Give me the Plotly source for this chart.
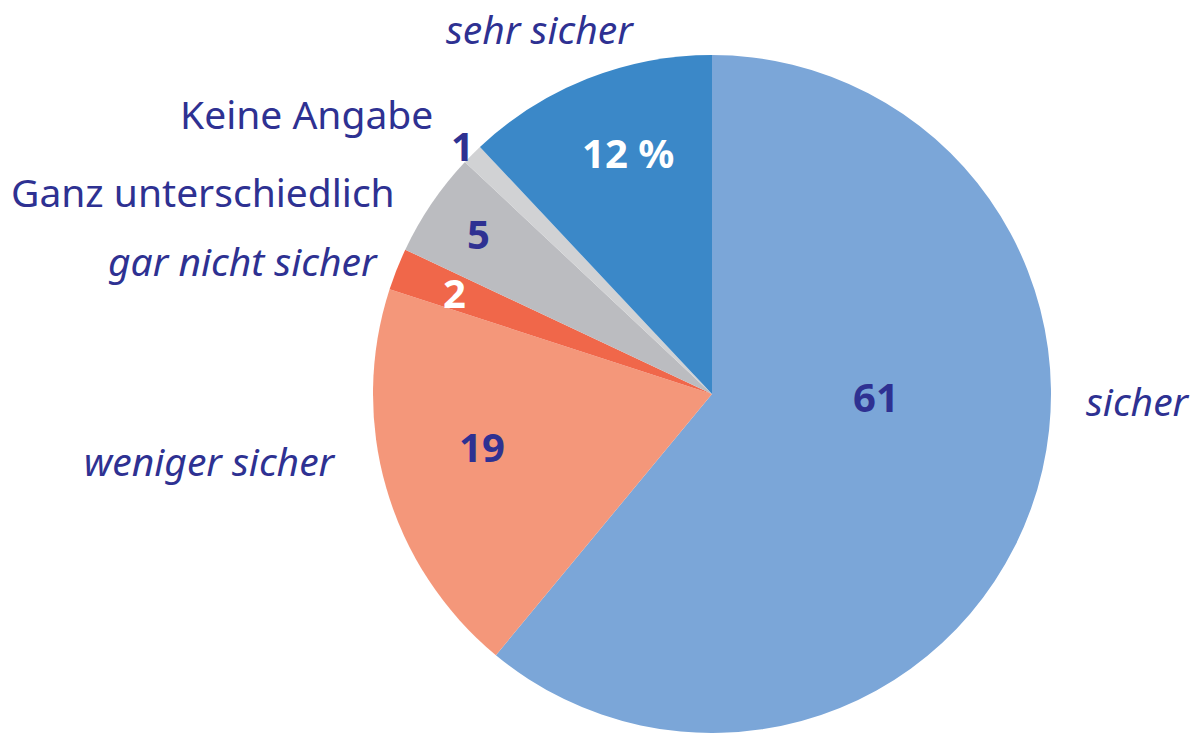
import plotly.graph_objects as go

categories = ["sicher", "weniger sicher", "gar nicht sicher", "Ganz unterschiedlich", "Keine Angabe", "sehr sicher"]
values = [61, 19, 2, 5, 1, 12]
value_labels = ["61", "19", "2", "5", "1", "12 %"]
colors = ["#7BA6D8", "#F4977A", "#F0674A", "#BBBCC0", "#D1D2D4", "#3B88C8"]
italic = [True, True, True, False, False, True]
value_colors = ["#2E3192", "#2E3192", "#FFFFFF", "#2E3192", "#2E3192", "#FFFFFF"]

W, H = 1198, 733
INK = "#2E3192"
FONT = "Noto Sans"

fig = go.Figure(go.Pie(
    labels=categories, values=values, sort=False, direction="clockwise", rotation=0,
    marker=dict(colors=colors, line=dict(width=0)),
    textinfo="none", hoverinfo="label+value", showlegend=False,
    domain=dict(x=[372 / W, 1052 / W], y=[0, 1 - 55 / H]),
))

# category label positions (px), anchor
label_pos = {
    "sicher": (1192, 400, "right"),
    "weniger sicher": (338, 460, "right"),
    "gar nicht sicher": (380, 260, "right"),
    "Ganz unterschiedlich": (397, 192, "right"),
    "Keine Angabe": (435, 113, "right"),
    "sehr sicher": (540, 28, "center"),
}
value_pos = {
    "sicher": (876, 396),
    "weniger sicher": (482, 446),
    "gar nicht sicher": (454, 292),
    "Ganz unterschiedlich": (478, 233),
    "Keine Angabe": (462, 145),
    "sehr sicher": (628, 152),
}

anns = []
for cat, it, vl, vc in zip(categories, italic, value_labels, value_colors):
    x, y, anc = label_pos[cat]
    anns.append(dict(x=x / W, y=1 - y / H, xref="paper", yref="paper", xanchor=anc, yanchor="middle",
                     text=f"<i>{cat}</i>" if it else cat, showarrow=False,
                     font=dict(family=FONT, size=39, color=INK)))
    vx, vy = value_pos[cat]
    anns.append(dict(x=vx / W, y=1 - vy / H, xref="paper", yref="paper", xanchor="center", yanchor="middle",
                     text=f"<b>{vl}</b>", showarrow=False,
                     font=dict(family=FONT, size=40, color=vc)))

fig.update_layout(width=W, height=H, margin=dict(l=0, r=0, t=0, b=0),
                  paper_bgcolor="white", plot_bgcolor="white", annotations=anns)
fig.write_html("out.html", config={"displayModeBar": False},
               post_script="document.body.style.margin='0';document.body.style.overflow='hidden';")
